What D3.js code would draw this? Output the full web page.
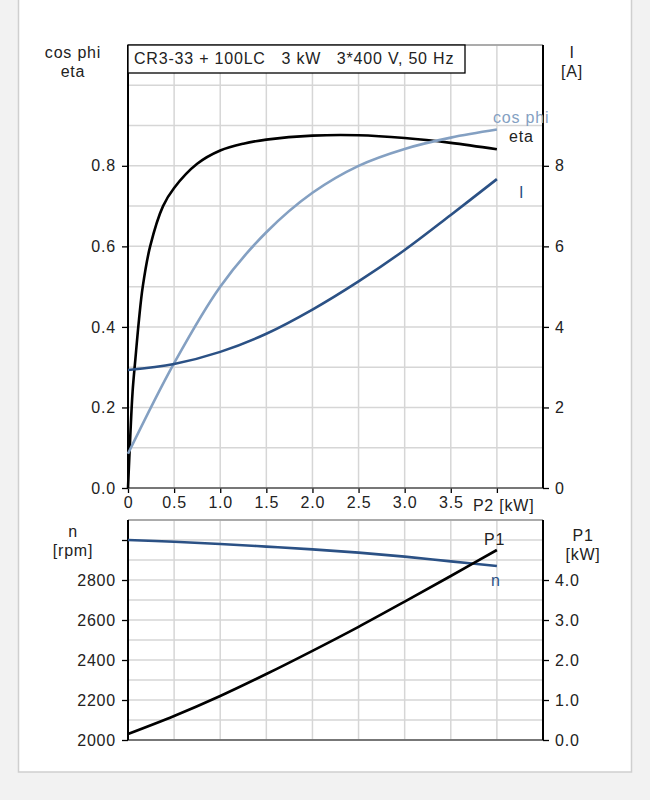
<!DOCTYPE html>
<html>
<head>
<meta charset="utf-8">
<script src="https://cdn.jsdelivr.net/npm/d3@7"></script>
<style>
  html, body { margin: 0; padding: 0; background: #f2f2f2; }
  svg text { font-family: "Liberation Sans", Arial, sans-serif; fill: #222; letter-spacing: 0.8px; }
</style>
</head>
<body>
<div id="chart"></div>
<script>
// --- данные ---
const p2Steps = [0, 0.5, 1.0, 1.5, 2.0, 2.5, 3.0, 3.5, 4.0];
const cosPhi = [0.085, 0.31, 0.50, 0.635, 0.733, 0.80, 0.842, 0.87, 0.89];
const currentA = [2.93, 3.08, 3.38, 3.83, 4.43, 5.13, 5.91, 6.78, 7.67];
const speedRpm = [3000, 2991, 2980, 2967, 2953, 2937, 2917, 2893, 2870];
const p1kW = [0.15, 0.60, 1.10, 1.65, 2.23, 2.83, 3.46, 4.10, 4.75];

// eta растёт очень круто у нуля, поэтому шаг мельче
const etaP2 = [0, 0.025, 0.05, 0.08, 0.12, 0.16, 0.24, 0.38, 0.5, 0.75, 1.0, 1.25, 1.5, 2.0, 2.5, 3.0, 3.5, 4.0];
const etaVals = [0, 0.13, 0.24, 0.32, 0.42, 0.50, 0.60, 0.70, 0.745, 0.805, 0.838, 0.855, 0.865, 0.875, 0.876, 0.869, 0.857, 0.841];

const xTicks = [0, 0.5, 1.0, 1.5, 2.0, 2.5, 3.0, 3.5];
const leftTicksTop = [0, 0.2, 0.4, 0.6, 0.8];
const rightTicksTop = [0, 2, 4, 6, 8];
const leftTicksBottom = [2000, 2200, 2400, 2600, 2800, 3000];
const rightTicksBottom = [0, 1, 2, 3, 4];
const title = "CR3-33 + 100LC   3 kW   3*400 V, 50 Hz";

const COLORS = {
    eta: "#000",
    cosPhi: "#84a0c2",
    blue: "#2b5185",
    grid: "#d6d6d6",
    axis: "#000"
};

const width = 650, height = 800;
const svg = d3.select("#chart").append("svg").attr("width", width).attr("height", height);

// карточка
svg.append("rect").attr("x", 18.5).attr("y", -5).attr("width", 613).attr("height", 777)
    .attr("fill", "#fff").attr("stroke", "#cfcfcf").attr("stroke-width", 1.5);

const L = 128, R = 543;
const x = d3.scaleLinear().domain([0, 4.5]).range([L, R]);

// --- верхний график ---
const yTop = d3.scaleLinear().domain([0, 1.1]).range([488, 45]);
const yI = d3.scaleLinear().domain([0, 11]).range([488, 45]);

// --- нижний график ---
const yN = d3.scaleLinear().domain([2000, 3100]).range([740, 520]);
const yP1 = d3.scaleLinear().domain([0, 5.5]).range([740, 520]);

function grid(yScale, yStep) {
    const g = svg.append("g");
    const [y0, y1] = yScale.domain();
    const ys = d3.range(y0, y1 + yStep / 2, yStep);
    g.selectAll(".h").data(ys).join("line")
        .attr("x1", L).attr("x2", R).attr("y1", d => yScale(d)).attr("y2", d => yScale(d))
        .attr("stroke", COLORS.grid).attr("stroke-width", 1.5);
    g.selectAll(".v").data(d3.range(0.5, 4.5, 0.5)).join("line")
        .attr("x1", d => x(d)).attr("x2", d => x(d))
        .attr("y1", yScale.range()[0]).attr("y2", yScale.range()[1])
        .attr("stroke", COLORS.grid).attr("stroke-width", 1.5);
}
grid(yTop, 0.1);
grid(yN, 100);

function styleAxis(g) {
    g.select(".domain").remove();
    g.selectAll(".tick line").attr("stroke", "#000").attr("stroke-width", 1.3);
    g.selectAll(".tick text").attr("font-size", 16).attr("fill", "#222");
}

// оси верхнего графика
svg.append("g").attr("transform", `translate(${L},0)`)
    .call(d3.axisLeft(yTop).tickValues(leftTicksTop).tickFormat(d3.format(".1f")).tickSize(6).tickPadding(6))
    .call(styleAxis);
svg.append("g").attr("transform", `translate(${R},0)`)
    .call(d3.axisRight(yI).tickValues(rightTicksTop).tickFormat(d3.format("d")).tickSize(6).tickPadding(6))
    .call(styleAxis);
svg.append("g").attr("transform", `translate(0,488)`)
    .call(d3.axisBottom(x).tickValues(xTicks.concat([4.0])).tickFormat(d => d === 4 ? "" : (d === 0 ? "0" : d3.format(".1f")(d))).tickSize(5).tickPadding(4))
    .call(styleAxis);
svg.append("text").attr("x", x(4.0) - 24).attr("y", 511).attr("font-size", 16).text("P2 [kW]");

// оси нижнего графика
svg.append("g").attr("transform", `translate(${L},0)`)
    .call(d3.axisLeft(yN).tickValues(leftTicksBottom).tickFormat(d => d === 3000 ? "" : d).tickSize(6).tickPadding(6))
    .call(styleAxis);
svg.append("g").attr("transform", `translate(${R},0)`)
    .call(d3.axisRight(yP1).tickValues(rightTicksBottom).tickFormat(d3.format(".1f")).tickSize(6).tickPadding(6))
    .call(styleAxis);

// рамки
function frame(yScale) {
    const [yb, yt] = yScale.range();
    svg.append("line").attr("x1", L).attr("x2", R).attr("y1", yt).attr("y2", yt).attr("stroke", "#9a9a9a").attr("stroke-width", 1.5);
    svg.append("line").attr("x1", L).attr("x2", R).attr("y1", yb).attr("y2", yb).attr("stroke", "#555").attr("stroke-width", 1.5);
    svg.append("line").attr("x1", L).attr("x2", L).attr("y1", yt).attr("y2", yb).attr("stroke", COLORS.axis).attr("stroke-width", 2);
    svg.append("line").attr("x1", R).attr("x2", R).attr("y1", yt).attr("y2", yb).attr("stroke", COLORS.axis).attr("stroke-width", 2);
}
frame(yTop);
frame(yN);

// кривые
const curve = d3.curveCatmullRom.alpha(0.5);
function drawLine(xs, ys, yScale, color) {
    const pts = xs.map((v, i) => [v, ys[i]]);
    svg.append("path").datum(pts)
        .attr("fill", "none").attr("stroke", color).attr("stroke-width", 2.6)
        .attr("d", d3.line().x(d => x(d[0])).y(d => yScale(d[1])).curve(curve));
}
drawLine(etaP2, etaVals, yTop, COLORS.eta);
drawLine(p2Steps, cosPhi, yTop, COLORS.cosPhi);
drawLine(p2Steps, currentA, yI, COLORS.blue);
drawLine(p2Steps, speedRpm, yN, COLORS.blue);
drawLine(p2Steps, p1kW, yP1, COLORS.eta);

// подписи кривых
svg.append("text").attr("x", 493).attr("y", 123).attr("font-size", 16).style("fill", COLORS.cosPhi).text("cos phi");
svg.append("text").attr("x", 509).attr("y", 142).attr("font-size", 16).text("eta");
svg.append("text").attr("x", 519).attr("y", 198).attr("font-size", 16).style("fill", COLORS.blue).text("I");
svg.append("text").attr("x", 484).attr("y", 545).attr("font-size", 16).text("P1");
svg.append("text").attr("x", 491).attr("y", 586).attr("font-size", 16).style("fill", COLORS.blue).text("n");

// заголовок в рамке
svg.append("rect").attr("x", L).attr("y", 45).attr("width", 465 - L).attr("height", 28)
    .attr("fill", "#fff").attr("stroke", "#000").attr("stroke-width", 1.3);
svg.append("text").attr("x", 134).attr("y", 64).attr("font-size", 16).style("white-space", "pre").text(title);

// подписи осей
function axisLabel(cx, lines, y0) {
    lines.forEach((t, i) => {
        svg.append("text").attr("x", cx).attr("y", y0 + i * 19).attr("text-anchor", "middle").attr("font-size", 16).text(t);
    });
}
axisLabel(73, ["cos phi", "eta"], 58);
axisLabel(572, ["I", "[A]"], 58);
axisLabel(73, ["n", "[rpm]"], 537);
axisLabel(583, ["P1", "[kW]"], 541);
</script>
</body>
</html>
